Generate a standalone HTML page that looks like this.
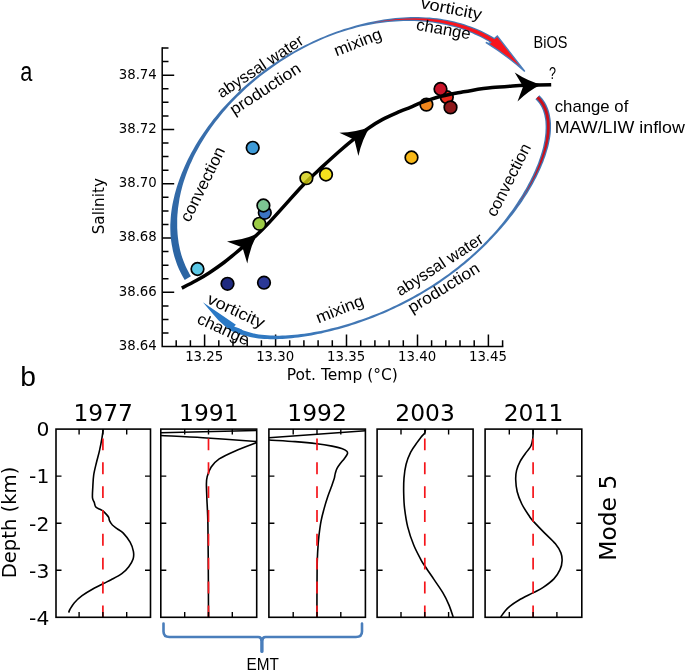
<!DOCTYPE html><html><head><meta charset="utf-8"><title>Figure</title>
<style>html,body{margin:0;padding:0;background:#fff}svg{display:block}.dj{font-family:"DejaVu Sans","Liberation Sans",sans-serif;fill:#000}.cal{font-family:"Liberation Sans","DejaVu Sans",sans-serif;fill:#000}</style></head><body>
<svg width="685" height="671" viewBox="0 0 685 671">
<rect width="685" height="671" fill="#fff"/>
<g stroke="#000" stroke-width="1.5" fill="none" stroke-linecap="square">
<path d="M162.2,47.9V346.6H502.6"/>
<path d="M162.2,333.0h6.3M162.2,319.5h6.3M162.2,305.9h6.3M162.2,292.3h12.0M162.2,278.8h6.3M162.2,265.2h6.3M162.2,251.6h6.3M162.2,238.0h12.0M162.2,224.5h6.3M162.2,210.9h6.3M162.2,197.3h6.3M162.2,183.8h12.0M162.2,170.2h6.3M162.2,156.6h6.3M162.2,143.0h6.3M162.2,129.5h12.0M162.2,115.9h6.3M162.2,102.3h6.3M162.2,88.8h6.3M162.2,75.2h12.0M162.2,61.6h6.3M162.2,48.1h6.3M176.2,346.6v-6.3M190.4,346.6v-6.3M204.6,346.6v-12.0M218.8,346.6v-6.3M233.0,346.6v-6.3M247.2,346.6v-6.3M261.4,346.6v-6.3M275.6,346.6v-12.0M289.7,346.6v-6.3M303.9,346.6v-6.3M318.1,346.6v-6.3M332.3,346.6v-6.3M346.5,346.6v-12.0M360.7,346.6v-6.3M374.9,346.6v-6.3M389.1,346.6v-6.3M403.3,346.6v-6.3M417.5,346.6v-12.0M431.6,346.6v-6.3M445.8,346.6v-6.3M460.0,346.6v-6.3M474.2,346.6v-6.3M488.4,346.6v-12.0M502.6,346.6v-6.3" stroke-linecap="butt"/>
</g>
<g class="dj" font-size="13.3">
<text x="156.8" y="349.9" text-anchor="end">38.64</text>
<text x="156.8" y="295.6" text-anchor="end">38.66</text>
<text x="156.8" y="241.3" text-anchor="end">38.68</text>
<text x="156.8" y="187.1" text-anchor="end">38.70</text>
<text x="156.8" y="132.8" text-anchor="end">38.72</text>
<text x="156.8" y="78.5" text-anchor="end">38.74</text>
<text x="204.2" y="360.6" text-anchor="middle">13.25</text>
<text x="275.2" y="360.6" text-anchor="middle">13.30</text>
<text x="346.1" y="360.6" text-anchor="middle">13.35</text>
<text x="417.1" y="360.6" text-anchor="middle">13.40</text>
<text x="488.0" y="360.6" text-anchor="middle">13.45</text>
</g>
<text class="dj" font-size="15.5" x="342.3" y="379.8" text-anchor="middle">Pot. Temp (°C)</text>
<text class="dj" font-size="15.2" text-anchor="middle" transform="translate(103.6,206.2) rotate(-90)">Salinity</text>
<defs><linearGradient id="g1" gradientUnits="userSpaceOnUse" x1="180" y1="270" x2="300" y2="50"><stop offset="0" stop-color="#2a64a3"/><stop offset="1" stop-color="#4577b3"/></linearGradient><linearGradient id="g2" gradientUnits="userSpaceOnUse" x1="236" y1="0" x2="340" y2="0"><stop offset="0" stop-color="#2a79c6"/><stop offset="1" stop-color="#4277b4"/></linearGradient></defs>
<path d="M190.9,276.2L189.4,273.7L188.0,271.1L186.7,268.6L185.5,265.9L184.4,263.3L183.3,260.5L182.3,257.8L181.4,254.9L180.6,252.1L179.9,249.2L179.3,246.3L178.7,243.3L178.3,240.3L177.9,237.2L177.6,234.2L177.4,231.1L177.2,227.9L177.2,224.8L177.2,221.6L177.2,218.4L177.4,215.1L177.7,211.9L178.0,208.6L178.5,205.3L179.0,202.0L179.5,198.6L180.2,195.3L180.9,191.9L181.8,188.5L182.7,185.1L183.7,181.8L184.8,178.4L186.0,175.0L187.3,171.6L188.6,168.2L190.0,164.8L191.6,161.4L193.1,158.0L194.8,154.6L196.6,151.2L198.4,147.9L200.3,144.5L202.3,141.2L204.3,137.9L206.5,134.6L208.7,131.3L210.9,128.0L213.3,124.8L215.7,121.6L218.2,118.4L220.7,115.2L223.3,112.0L226.0,108.9L228.7,105.8L231.5,102.8L234.4,99.8L237.3,96.8L240.3,93.9L243.3,91.0L246.4,88.1L249.6,85.3L252.8,82.6L256.0,79.8L259.3,77.1L262.6,74.5L266.0,71.9L269.5,69.4L272.9,66.9L276.4,64.5L280.0,62.1L283.6,59.7L287.2,57.5L290.9,55.3L294.5,53.1L298.3,51.0L302.0,49.0L305.8,47.0L309.6,45.1L313.4,43.3L317.3,41.5L321.1,39.8L325.0,38.1L328.9,36.6L332.8,35.1L336.8,33.6L340.7,32.3L344.7,31.0L348.6,29.8L352.6,28.7L356.5,27.6L360.5,26.6L364.4,25.8L368.4,25.0L372.3,24.2L376.3,23.6L380.2,23.0L384.1,22.5L388.0,22.0L391.9,21.7L395.7,21.4L399.5,21.2L403.4,21.0L407.1,21.0L410.9,21.0L414.6,21.1L418.3,21.3L421.9,21.5L425.6,21.8L429.1,22.2L432.7,22.6L436.2,23.2L439.7,23.8L443.1,24.4L446.4,25.1L449.8,25.9L453.1,26.7L456.3,27.6L459.5,28.6L462.6,29.6L465.7,30.7L468.8,31.9L471.8,33.1L474.7,34.4L477.6,35.7L480.4,37.1L483.2,38.6L485.9,40.1L488.6,41.6L491.2,43.3L494.5,38.0L491.7,36.3L488.9,34.7L486.0,33.2L483.1,31.7L480.1,30.3L477.1,29.0L474.0,27.7L470.8,26.5L467.6,25.4L464.4,24.3L461.1,23.3L457.8,22.4L454.4,21.5L451.0,20.7L447.5,20.0L444.0,19.4L440.5,18.8L436.9,18.3L433.2,17.9L429.6,17.6L425.9,17.4L422.2,17.2L418.4,17.1L414.7,17.1L410.9,17.1L407.0,17.3L403.2,17.4L399.3,17.7L395.4,18.1L391.5,18.5L387.6,19.0L383.7,19.5L379.8,20.2L375.8,20.9L371.9,21.7L367.9,22.5L363.9,23.5L359.9,24.5L356.0,25.6L352.0,26.7L348.0,27.9L344.0,29.1L340.1,30.4L336.1,31.8L332.2,33.3L328.2,34.8L324.3,36.4L320.4,38.0L316.5,39.8L312.6,41.5L308.8,43.4L304.9,45.3L301.1,47.3L297.3,49.3L293.6,51.4L289.8,53.5L286.1,55.7L282.4,58.0L278.8,60.3L275.2,62.7L271.7,65.1L268.1,67.6L264.7,70.1L261.2,72.7L257.8,75.3L254.5,78.0L251.2,80.7L247.9,83.5L244.7,86.3L241.6,89.1L238.5,92.0L235.5,95.0L232.5,97.9L229.6,100.9L226.7,104.0L223.9,107.0L221.1,110.1L218.4,113.3L215.8,116.4L213.2,119.6L210.7,122.9L208.3,126.1L205.9,129.4L203.6,132.7L201.4,136.0L199.2,139.3L197.2,142.6L195.1,146.0L193.2,149.4L191.3,152.8L189.5,156.2L187.8,159.6L186.2,163.0L184.6,166.5L183.1,169.9L181.7,173.3L180.4,176.8L179.1,180.2L177.9,183.7L176.8,187.1L175.8,190.6L174.8,194.0L174.0,197.5L173.2,200.9L172.5,204.3L171.9,207.8L171.4,211.2L171.0,214.6L170.7,218.0L170.5,221.4L170.3,224.7L170.3,228.1L170.4,231.4L170.5,234.7L170.8,238.0L171.2,241.2L171.7,244.4L172.3,247.6L172.9,250.8L173.7,253.9L174.5,257.0L175.5,260.0L176.5,263.0L177.6,266.0L178.9,268.9L180.2,271.7L181.6,274.5L183.1,277.3L184.7,279.9Z" fill="url(#g1)"/>
<path d="M524.8,71.4L497.3,36.1L494.2,38.7L489.3,43.6L485.8,42.4Q505.5,54.5 524.8,71.4Z" fill="#f8141c" stroke="#4a7ebb" stroke-width="1.4" stroke-linejoin="miter"/>
<path d="M352.3,27.7L356.2,26.6L360.2,25.6L364.2,24.6L368.1,23.8L372.1,23.0L376.1,22.3L380.0,21.7L383.9,21.2L387.8,20.8L391.7,20.4L395.6,20.1L399.5,19.9L403.3,19.8L407.1,19.7L410.9,19.7L414.6,19.8L418.3,20.0L422.0,20.2L425.7,20.6L429.3,20.9L432.8,21.4L436.4,21.9L439.9,22.5L443.3,23.2L446.7,23.9L450.1,24.7L453.4,25.5L456.6,26.4L459.9,27.4L463.0,28.4L466.2,29.6L469.2,30.7L472.2,32.0L475.2,33.2L478.1,34.6L481.0,36.0L483.8,37.5L486.5,39.0L489.2,40.6L491.9,42.2L495.1,44.2L497.1,41.0L493.8,39.1L491.1,37.4L488.3,35.8L485.4,34.3L482.5,32.8L479.6,31.4L476.6,30.1L473.5,28.9L470.4,27.7L467.2,26.5L464.0,25.5L460.7,24.5L457.4,23.6L454.1,22.7L450.7,21.9L447.3,21.2L443.8,20.6L440.3,20.0L436.7,19.6L433.1,19.2L429.5,18.9L425.8,18.6L422.1,18.5L418.4,18.4L414.6,18.3L410.9,18.4L407.1,18.5L403.3,18.7L399.4,19.0L395.6,19.3L391.7,19.7L387.8,20.2L383.9,20.8L380.0,21.4L376.0,22.1L372.1,22.9L368.1,23.7L364.2,24.6L360.2,25.6L356.2,26.6L352.3,27.7Z" fill="#f8141c"/>
<path d="M535.4,99.3L536.9,100.7L538.2,102.2L539.4,103.8L540.5,105.5L541.5,107.3L542.3,109.1L543.1,111.1L543.7,113.0L544.3,115.1L544.7,117.2L545.1,119.3L545.4,121.5L545.5,123.8L545.6,126.0L545.6,128.3L545.5,130.6L545.4,133.0L545.1,135.4L544.8,137.8L544.5,140.2L544.0,142.6L543.5,145.1L543.0,147.5L542.3,150.0L541.6,152.5L540.8,155.0L540.0,157.6L539.1,160.1L538.2,162.7L537.2,165.3L536.1,167.8L535.0,170.4L533.8,173.0L532.6,175.7L531.3,178.3L530.0,180.9L528.6,183.6L527.2,186.2L525.7,188.9L524.1,191.6L522.6,194.2L520.9,196.9L519.2,199.6L517.5,202.3L515.7,205.0L513.9,207.7L512.0,210.4L510.0,213.1L508.0,215.8L506.0,218.5L503.9,221.2L501.7,223.9L499.5,226.6L497.3,229.2L494.9,231.9L492.6,234.5L490.1,237.1L487.7,239.7L485.2,242.3L482.6,244.9L480.0,247.4L477.4,249.9L474.7,252.5L471.9,254.9L469.2,257.4L466.3,259.8L463.5,262.3L460.6,264.6L457.7,267.0L454.7,269.3L451.7,271.6L448.6,273.9L445.6,276.1L442.4,278.3L439.3,280.5L436.1,282.6L432.9,284.7L429.7,286.8L426.4,288.8L423.2,290.8L419.9,292.7L416.5,294.6L413.2,296.5L409.9,298.3L406.5,300.1L403.1,301.8L399.7,303.5L396.3,305.2L392.8,306.8L389.4,308.4L385.9,309.9L382.5,311.4L379.0,312.9L375.6,314.3L372.1,315.6L368.6,317.0L365.2,318.2L361.7,319.5L358.2,320.6L354.8,321.8L351.3,322.9L347.9,324.0L344.4,325.0L341.0,325.9L337.6,326.9L334.2,327.8L330.8,328.6L327.4,329.4L324.1,330.2L320.7,330.9L317.4,331.5L314.1,332.1L310.8,332.7L307.5,333.2L304.3,333.7L301.0,334.1L297.8,334.5L294.7,334.8L291.5,335.1L288.4,335.3L285.3,335.5L282.2,335.6L279.2,335.7L276.2,335.7L273.2,335.6L270.3,335.5L267.4,335.3L264.5,335.1L261.7,334.8L258.9,334.4L256.2,333.9L253.6,333.4L251.0,332.8L248.4,332.1L245.9,331.3L243.5,330.5L241.2,329.6L238.9,328.5L236.7,327.4L234.6,331.7L236.9,332.8L239.4,333.8L242.0,334.8L244.6,335.6L247.3,336.3L250.0,337.0L252.7,337.5L255.6,338.0L258.4,338.4L261.3,338.7L264.2,338.9L267.2,339.1L270.1,339.2L273.2,339.2L276.2,339.2L279.3,339.1L282.4,338.9L285.5,338.7L288.6,338.5L291.8,338.2L295.0,337.8L298.2,337.4L301.4,337.0L304.7,336.5L308.0,336.0L311.3,335.4L314.6,334.8L317.9,334.1L321.3,333.4L324.6,332.6L328.0,331.8L331.4,331.0L334.8,330.1L338.2,329.2L341.7,328.2L345.1,327.2L348.6,326.2L352.0,325.1L355.5,324.0L359.0,322.8L362.4,321.6L365.9,320.3L369.4,319.0L372.9,317.7L376.4,316.3L379.8,314.8L383.3,313.4L386.8,311.9L390.3,310.3L393.7,308.7L397.2,307.1L400.6,305.4L404.0,303.7L407.4,302.0L410.8,300.2L414.2,298.3L417.6,296.4L420.9,294.5L424.2,292.6L427.5,290.6L430.8,288.5L434.1,286.5L437.3,284.4L440.5,282.2L443.6,280.0L446.8,277.8L449.9,275.6L452.9,273.3L456.0,271.0L459.0,268.7L461.9,266.3L464.9,263.9L467.8,261.5L470.6,259.1L473.4,256.6L476.2,254.1L478.9,251.6L481.6,249.1L484.2,246.5L486.8,243.9L489.3,241.3L491.8,238.7L494.3,236.1L496.7,233.5L499.1,230.8L501.4,228.2L503.7,225.5L505.9,222.9L508.1,220.2L510.2,217.5L512.3,214.9L514.4,212.2L516.4,209.5L518.3,206.8L520.2,204.2L522.1,201.5L523.8,198.8L525.6,196.1L527.3,193.4L528.9,190.8L530.5,188.1L532.0,185.4L533.5,182.8L534.9,180.1L536.3,177.5L537.6,174.8L538.8,172.2L540.1,169.5L541.2,166.9L542.3,164.3L543.4,161.7L544.3,159.1L545.3,156.5L546.1,153.9L546.9,151.3L547.7,148.8L548.4,146.2L549.0,143.6L549.5,141.1L550.0,138.6L550.4,136.0L550.7,133.5L550.9,131.0L551.0,128.5L551.0,126.0L551.0,123.5L550.8,121.0L550.5,118.6L550.1,116.2L549.6,113.8L549.0,111.5L548.3,109.2L547.4,107.0L546.4,104.8L545.3,102.7L544.0,100.7L542.6,98.7L541.0,96.9L539.4,95.3Z" fill="url(#g2)"/>
<path d="M536.3,98.4L537.9,99.8L539.2,101.4L540.5,103.1L541.6,104.8L542.6,106.7L543.5,108.6L544.3,110.6L545.0,112.7L545.6,114.8L546.0,117.0L546.4,119.2L546.7,121.4L546.8,123.7L546.9,126.0L546.9,128.4L546.8,130.7L546.7,133.1L546.4,135.5L546.1,138.0L545.8,140.4L545.3,142.9L544.8,145.4L544.2,147.9L543.6,150.4L542.9,152.9L542.1,155.5L541.2,158.0L540.3,160.6L539.4,163.2L538.5,165.8L537.4,168.4L536.3,171.0L535.2,173.7L534.0,176.3L532.7,179.0L531.4,181.6L530.0,184.3L528.5,187.0L527.0,189.7L525.5,192.4L523.9,195.1L522.2,197.8L520.5,200.5L518.8,203.2L516.9,205.9L515.1,208.6L513.1,211.3L511.2,214.0L509.1,216.7L507.0,219.4L507.0,219.4L509.1,216.7L511.2,214.0L513.2,211.3L515.1,208.6L517.1,206.0L518.9,203.3L520.7,200.6L522.5,198.0L524.2,195.3L525.9,192.6L527.5,190.0L529.1,187.3L530.6,184.7L532.1,182.0L533.5,179.4L534.9,176.8L536.3,174.2L537.5,171.6L538.8,169.0L539.9,166.4L541.1,163.8L542.1,161.2L543.1,158.7L544.0,156.1L544.9,153.5L545.7,151.0L546.4,148.4L547.1,145.9L547.7,143.4L548.2,140.9L548.7,138.4L549.1,135.9L549.4,133.4L549.6,130.9L549.7,128.4L549.7,126.0L549.7,123.6L549.5,121.1L549.2,118.8L548.8,116.4L548.4,114.1L547.8,111.9L547.0,109.6L546.2,107.5L545.2,105.4L544.1,103.3L542.9,101.4L541.5,99.5L540.0,97.8L538.4,96.2Z" fill="#cc0f1a"/>
<path d="M202.9,302.3L235.9,324.8L234.1,326.6L241.7,329.5L241.7,335L230,330.5L224.2,325.6L218.4,320.2L212.5,313.6Z" fill="#2a79c6"/>
<circle cx="426.4" cy="104.6" r="6.3" fill="#f0861c" stroke="#000" stroke-width="1.7"/>
<circle cx="446.8" cy="97.2" r="6.3" fill="#ea2a1c" stroke="#000" stroke-width="1.7"/>
<path d="M181.8,288.1C184.2,286.9 191.7,283.2 196.3,280.6C200.9,278.0 205.0,275.6 209.4,272.7C213.8,269.8 218.2,266.8 222.6,263.5C227.0,260.2 232.2,255.8 235.7,253.0C239.2,250.2 240.3,249.2 243.6,246.4C246.9,243.6 251.4,240.1 255.4,236.3C259.4,232.5 262.8,229.2 267.9,223.8C273.0,218.4 279.8,210.7 285.8,204.1C291.8,197.5 297.7,190.5 303.7,184.4C309.7,178.3 315.7,172.9 321.6,167.4C327.6,161.9 334.1,156.0 339.4,151.3C344.7,146.6 348.6,143.3 353.5,139.4C358.4,135.5 364.3,131.0 369.1,127.7C373.9,124.4 377.1,122.3 382.2,119.6C387.3,116.9 395.3,113.5 400.0,111.4C404.7,109.4 406.9,108.7 410.3,107.3C413.7,105.9 417.0,104.2 420.4,102.9C423.8,101.6 427.3,100.4 430.7,99.3C434.1,98.2 437.5,97.2 440.9,96.3C444.3,95.4 447.8,94.7 451.2,94.0C454.6,93.3 457.9,92.8 461.3,92.2C464.7,91.6 466.7,91.2 471.8,90.4C476.9,89.6 485.4,88.3 492.2,87.6C499.0,86.9 506.8,86.4 512.6,86.0C518.4,85.6 520.6,85.5 527.0,85.3C533.4,85.1 547.2,84.8 551.2,84.7" fill="none" stroke="#000" stroke-width="3.5"/>
<path d="M257.6,233.6Q244.5,239.9 227.0,241.4L242.5,247.6L247.3,263.5Q250.3,246.2 257.6,233.6Z" fill="#000"/>
<path d="M370.0,127.1Q356.7,132.4 339.4,132.8L354.4,139.8L358.4,156.0Q362.2,139.1 370.0,127.1Z" fill="#000"/>
<path d="M541.5,84.6Q528.4,81.4 514.7,72.5L523.1,86.4L517.5,101.6Q529.2,90.2 541.5,84.6Z" fill="#000"/>
<circle cx="197.5" cy="269.0" r="6.3" fill="#5bc8e6" fill-opacity="1" stroke="#000" stroke-width="1.7"/>
<circle cx="227.5" cy="283.8" r="6.3" fill="#1f2a80" fill-opacity="1" stroke="#000" stroke-width="1.7"/>
<circle cx="264.0" cy="282.7" r="6.3" fill="#2b3897" fill-opacity="1" stroke="#000" stroke-width="1.7"/>
<circle cx="252.7" cy="147.8" r="6.3" fill="#3f9bd8" fill-opacity="1" stroke="#000" stroke-width="1.7"/>
<circle cx="259.4" cy="223.8" r="6.3" fill="#9ccb45" fill-opacity="1" stroke="#000" stroke-width="1.7"/>
<circle cx="264.8" cy="212.8" r="6.3" fill="#3b74c2" fill-opacity="1" stroke="#000" stroke-width="1.7"/>
<circle cx="263.4" cy="205.5" r="6.3" fill="#7cc592" fill-opacity="1" stroke="#000" stroke-width="1.7"/>
<circle cx="306.4" cy="178.2" r="6.3" fill="#d2cd10" fill-opacity="0.82" stroke="#000" stroke-width="1.7"/>
<circle cx="326.0" cy="174.5" r="6.3" fill="#f5e21e" fill-opacity="1" stroke="#000" stroke-width="1.7"/>
<circle cx="411.5" cy="157.5" r="6.3" fill="#f8b818" fill-opacity="1" stroke="#000" stroke-width="1.7"/>
<circle cx="450.5" cy="107.4" r="6.3" fill="#8e191b" fill-opacity="1" stroke="#000" stroke-width="1.7"/>
<circle cx="440.5" cy="89.0" r="6.3" fill="#c9142a" fill-opacity="1" stroke="#000" stroke-width="1.7"/>
<text class="cal" font-size="16.4" textLength="100.0" lengthAdjust="spacingAndGlyphs" transform="translate(221.4,98.5) rotate(-33.6)">abyssal water</text>
<text class="cal" font-size="16.4" textLength="81.0" lengthAdjust="spacingAndGlyphs" transform="translate(234.2,115.5) rotate(-33.2)">production</text>
<text class="cal" font-size="16.4" textLength="81.0" lengthAdjust="spacingAndGlyphs" transform="translate(189.6,223.0) rotate(-63.7)">convection</text>
<text class="cal" font-size="16.4" textLength="49.8" lengthAdjust="spacingAndGlyphs" transform="translate(336.5,56.4) rotate(-21.4)">mixing</text>
<text class="cal" font-size="16.4" textLength="62.0" lengthAdjust="spacingAndGlyphs" transform="translate(419.9,8.0) rotate(11.1)">vorticity</text>
<text class="cal" font-size="16.4" textLength="55.0" lengthAdjust="spacingAndGlyphs" transform="translate(415.6,29.7) rotate(10.2)">change</text>
<text class="cal" font-size="16.4" textLength="33.8" lengthAdjust="spacingAndGlyphs" transform="translate(533.6,48.0) rotate(0.0)">BiOS</text>
<text class="cal" font-size="16.5" textLength="7.0" lengthAdjust="spacingAndGlyphs" transform="translate(548.9,79.4) rotate(0.0)">?</text>
<text class="cal" font-size="16.4" textLength="73.6" lengthAdjust="spacingAndGlyphs" transform="translate(554.7,111.5) rotate(0.0)">change of</text>
<text class="cal" font-size="16.4" textLength="130.2" lengthAdjust="spacingAndGlyphs" transform="translate(554.7,133.4) rotate(0.0)">MAW/LIW inflow</text>
<text class="cal" font-size="16.4" textLength="79.3" lengthAdjust="spacingAndGlyphs" transform="translate(495.5,217.8) rotate(-63.0)">convection</text>
<text class="cal" font-size="16.4" textLength="100.5" lengthAdjust="spacingAndGlyphs" transform="translate(400.3,296.4) rotate(-32.9)">abyssal water</text>
<text class="cal" font-size="16.4" textLength="80.8" lengthAdjust="spacingAndGlyphs" transform="translate(412.1,313.6) rotate(-31.7)">production</text>
<text class="cal" font-size="16.4" textLength="50.0" lengthAdjust="spacingAndGlyphs" transform="translate(318.4,323.5) rotate(-21.8)">mixing</text>
<text class="cal" font-size="16.4" textLength="61.5" lengthAdjust="spacingAndGlyphs" transform="translate(205.9,302.7) rotate(24.9)">vorticity</text>
<text class="cal" font-size="16.4" textLength="55.1" lengthAdjust="spacingAndGlyphs" transform="translate(196.1,322.7) rotate(24.7)">change</text>
<text class="cal" font-size="17.0" textLength="32.4" lengthAdjust="spacingAndGlyphs" transform="translate(246.5,669.8) rotate(0.0)">EMT</text>
<text class="cal" font-size="28.2" x="20.3" y="80.7" textLength="12.1" lengthAdjust="spacingAndGlyphs">a</text>
<text class="cal" font-size="28.2" x="20.3" y="386">b</text>
<path d="M103.2,429.2C103.0,430.7 102.5,434.7 101.9,438.3C101.3,441.9 100.4,446.5 99.5,450.6C98.6,454.7 97.4,458.7 96.4,462.8C95.4,466.9 94.3,470.9 93.7,475.0C93.1,479.1 93.0,483.4 92.8,487.2C92.6,491.0 92.2,495.3 92.5,497.9C92.8,500.4 93.8,501.0 94.3,502.5C94.8,504.0 94.8,505.9 95.8,507.1C96.8,508.3 99.2,508.9 100.4,509.5C101.6,510.1 101.7,509.9 102.7,510.7C103.7,511.5 105.4,513.3 106.4,514.4C107.4,515.5 108.2,516.4 108.7,517.4C109.2,518.4 108.9,519.3 109.5,520.6C110.1,521.9 111.2,523.7 112.4,525.0C113.7,526.3 115.2,527.2 117.0,528.6C118.8,530.0 121.1,530.8 123.3,533.1C125.5,535.4 128.4,539.2 130.1,542.2C131.8,545.2 132.9,548.6 133.4,551.4C133.9,554.2 133.9,556.5 133.1,559.0C132.3,561.5 130.7,564.2 128.8,566.7C126.9,569.2 124.8,571.5 121.8,573.7C118.8,575.9 114.1,578.2 111.1,579.8C108.0,581.4 106.5,582.0 103.5,583.5C100.5,585.0 96.4,587.0 92.8,589.0C89.2,591.0 85.2,593.4 82.1,595.7C79.0,598.0 76.4,600.4 74.4,602.7C72.4,605.0 70.9,607.9 69.9,609.5C69.0,611.1 68.9,612.1 68.7,612.6" fill="none" stroke="#000" stroke-width="1.6"/>
<path d="M102.9,617.3V430.1" stroke="#f5141a" stroke-width="1.7" stroke-dasharray="11.9 11.95" fill="none"/>
<rect x="56.0" y="429.1" width="94.5" height="188.2" fill="none" stroke="#000" stroke-width="1.6"/>
<path d="M56.0,476.1h5.5M150.5,476.1h-5.5M56.0,523.2h5.5M150.5,523.2h-5.5M56.0,570.2h5.5M150.5,570.2h-5.5M79.1,429.1v5.3M79.1,617.3v-5.3M102.9,429.1v5.3M102.9,617.3v-5.3M126.7,429.1v5.3M126.7,617.3v-5.3" stroke="#000" stroke-width="1.4" fill="none"/>
<text class="dj" font-size="23.4" x="103.2" y="421.3" text-anchor="middle">1977</text>
<path d="M256.7,430.5L160.8,432.8" fill="none" stroke="#000" stroke-width="1.6"/>
<path d="M160.8,435.5C167.8,435.9 187.0,436.7 203.0,437.7C219.0,438.7 247.8,441.0 256.7,441.6" fill="none" stroke="#000" stroke-width="1.6"/>
<path d="M256.7,442.6C253.1,444.0 241.6,448.2 235.3,450.9C229.1,453.6 223.2,456.2 219.2,458.9C215.2,461.6 213.2,464.1 211.2,467.0C209.2,469.9 208.0,473.7 207.2,476.6C206.4,479.5 206.4,480.4 206.4,484.2C206.4,488.0 206.7,492.8 206.9,499.4C207.2,506.0 207.7,512.1 207.9,523.9C208.1,535.7 208.2,554.5 208.3,570.0C208.4,585.5 208.5,609.3 208.5,617.2" fill="none" stroke="#000" stroke-width="1.6"/>
<path d="M208.5,617.3V430.1" stroke="#f5141a" stroke-width="1.7" stroke-dasharray="11.9 11.95" fill="none"/>
<rect x="160.8" y="429.1" width="95.9" height="188.2" fill="none" stroke="#000" stroke-width="1.6"/>
<path d="M160.8,476.1h5.5M256.7,476.1h-5.5M160.8,523.2h5.5M256.7,523.2h-5.5M160.8,570.2h5.5M256.7,570.2h-5.5M184.7,429.1v5.3M184.7,617.3v-5.3M208.5,429.1v5.3M208.5,617.3v-5.3M232.3,429.1v5.3M232.3,617.3v-5.3" stroke="#000" stroke-width="1.4" fill="none"/>
<text class="dj" font-size="23.4" x="208.8" y="421.3" text-anchor="middle">1991</text>
<path d="M365.4,430.8L268.9,437.7" fill="none" stroke="#000" stroke-width="1.6"/>
<path d="M268.9,440.0C273.3,440.3 287.1,441.0 295.1,441.6C303.1,442.2 310.6,442.9 316.8,443.7C323.0,444.4 328.0,445.3 332.1,446.1C336.2,446.9 339.2,447.6 341.7,448.5C344.1,449.4 345.9,450.3 346.8,451.2C347.7,452.1 347.8,452.8 347.3,454.1C346.9,455.4 345.3,457.3 344.1,458.9C342.9,460.5 341.3,462.2 340.1,463.8C338.9,465.4 337.7,467.0 336.9,468.6C336.1,470.2 335.7,472.0 335.3,473.4C334.9,474.8 334.8,476.0 334.6,477.0C334.4,478.0 334.4,478.2 333.9,479.6C333.4,481.1 332.8,482.9 331.8,485.7C330.8,488.5 329.1,492.6 327.8,496.4C326.5,500.2 325.2,504.5 324.1,508.6C323.0,512.7 322.0,516.2 321.1,520.8C320.2,525.4 319.5,531.0 318.9,536.1C318.3,541.2 318.0,545.8 317.7,551.4C317.4,557.0 317.2,558.7 317.1,569.7C317.0,580.7 316.9,609.3 316.9,617.2" fill="none" stroke="#000" stroke-width="1.6"/>
<path d="M317.0,617.3V430.1" stroke="#f5141a" stroke-width="1.7" stroke-dasharray="11.9 11.95" fill="none"/>
<rect x="268.9" y="429.1" width="96.5" height="188.2" fill="none" stroke="#000" stroke-width="1.6"/>
<path d="M268.9,476.1h5.5M365.4,476.1h-5.5M268.9,523.2h5.5M365.4,523.2h-5.5M268.9,570.2h5.5M365.4,570.2h-5.5M293.2,429.1v5.3M293.2,617.3v-5.3M317.0,429.1v5.3M317.0,617.3v-5.3M340.8,429.1v5.3M340.8,617.3v-5.3" stroke="#000" stroke-width="1.4" fill="none"/>
<text class="dj" font-size="23.4" x="317.1" y="421.3" text-anchor="middle">1992</text>
<path d="M425.4,429.2C425.3,429.8 425.5,431.5 424.8,432.8C424.1,434.1 422.7,435.1 421.4,436.8C420.1,438.5 418.6,440.3 416.8,442.9C415.0,445.4 412.5,448.5 410.7,452.1C408.9,455.7 407.2,460.0 406.1,464.3C405.0,468.6 404.4,473.3 404.0,478.1C403.6,482.9 403.6,488.2 403.7,493.3C403.8,498.4 403.9,503.0 404.6,508.6C405.3,514.2 406.2,520.8 407.7,526.9C409.2,533.0 411.5,539.7 413.8,545.3C416.1,550.9 419.5,557.0 421.4,560.6C423.3,564.2 423.4,563.7 425.4,566.7C427.4,569.8 430.7,574.6 433.6,578.9C436.5,583.2 440.2,588.3 442.8,592.6C445.4,596.9 447.2,600.8 448.9,604.9C450.6,609.0 452.5,615.0 453.2,617.0" fill="none" stroke="#000" stroke-width="1.6"/>
<path d="M424.8,617.3V430.1" stroke="#f5141a" stroke-width="1.7" stroke-dasharray="11.9 11.95" fill="none"/>
<rect x="377.1" y="429.1" width="96.0" height="188.2" fill="none" stroke="#000" stroke-width="1.6"/>
<path d="M377.1,476.1h5.5M473.1,476.1h-5.5M377.1,523.2h5.5M473.1,523.2h-5.5M377.1,570.2h5.5M473.1,570.2h-5.5M401.0,429.1v5.3M401.0,617.3v-5.3M424.8,429.1v5.3M424.8,617.3v-5.3M448.6,429.1v5.3M448.6,617.3v-5.3" stroke="#000" stroke-width="1.4" fill="none"/>
<text class="dj" font-size="23.4" x="425.1" y="421.3" text-anchor="middle">2003</text>
<path d="M533.1,429.2C533.0,430.7 533.2,435.5 532.8,438.3C532.4,441.1 532.0,443.7 530.9,446.0C529.8,448.3 528.2,449.6 526.4,452.1C524.6,454.6 521.9,458.1 520.3,461.2C518.7,464.2 517.4,467.3 516.6,470.4C515.8,473.5 515.6,476.0 515.7,479.6C515.8,483.2 516.2,487.7 517.2,491.8C518.2,495.9 519.8,499.9 521.8,504.0C523.8,508.1 527.5,513.4 529.4,516.3C531.3,519.2 530.8,518.6 533.4,521.4C536.0,524.2 541.0,529.4 544.7,533.1C548.4,536.8 552.7,540.5 555.4,543.8C558.1,547.1 559.8,550.1 560.9,552.9C562.0,555.7 562.2,557.8 562.1,560.6C562.0,563.4 561.4,566.7 560.0,569.7C558.6,572.8 556.7,576.0 553.9,578.9C551.1,581.8 546.6,585.1 543.2,587.4C539.8,589.7 537.5,590.5 533.4,592.6C529.3,594.8 522.9,597.8 518.7,600.3C514.5,602.8 511.0,605.1 508.0,607.9C505.0,610.7 501.8,615.5 500.6,617.0" fill="none" stroke="#000" stroke-width="1.6"/>
<path d="M533.1,617.3V430.1" stroke="#f5141a" stroke-width="1.7" stroke-dasharray="11.9 11.95" fill="none"/>
<rect x="485.1" y="429.1" width="96.7" height="188.2" fill="none" stroke="#000" stroke-width="1.6"/>
<path d="M485.1,476.1h5.5M581.8,476.1h-5.5M485.1,523.2h5.5M581.8,523.2h-5.5M485.1,570.2h5.5M581.8,570.2h-5.5M509.3,429.1v5.3M509.3,617.3v-5.3M533.1,429.1v5.3M533.1,617.3v-5.3M556.9,429.1v5.3M556.9,617.3v-5.3" stroke="#000" stroke-width="1.4" fill="none"/>
<text class="dj" font-size="23.4" x="533.5" y="421.3" text-anchor="middle">2011</text>
<g class="dj" font-size="20.3" text-anchor="end">
<text x="49.3" y="436.4">0</text>
<text x="49.3" y="483.4">-1</text>
<text x="49.3" y="530.5">-2</text>
<text x="49.3" y="577.5">-3</text>
<text x="49.3" y="624.6">-4</text>
</g>
<text class="dj" font-size="19.6" text-anchor="middle" transform="translate(15.7,522.5) rotate(-90)">Depth (km)</text>
<text class="dj" font-size="23.4" text-anchor="middle" transform="translate(616.4,517.7) rotate(-90)">Mode 5</text>
<path d="M163.5,623.5V631.5Q163.5,637 169.5,637H258.3Q261.5,637 261.5,641V651.6M262.3,651.6V641Q262.3,637 265.5,637H356Q362,637 362,631.5V623.5" fill="none" stroke="#4a7ebb" stroke-width="2.6" stroke-linejoin="round" stroke-linecap="round"/>
</svg></body></html>
